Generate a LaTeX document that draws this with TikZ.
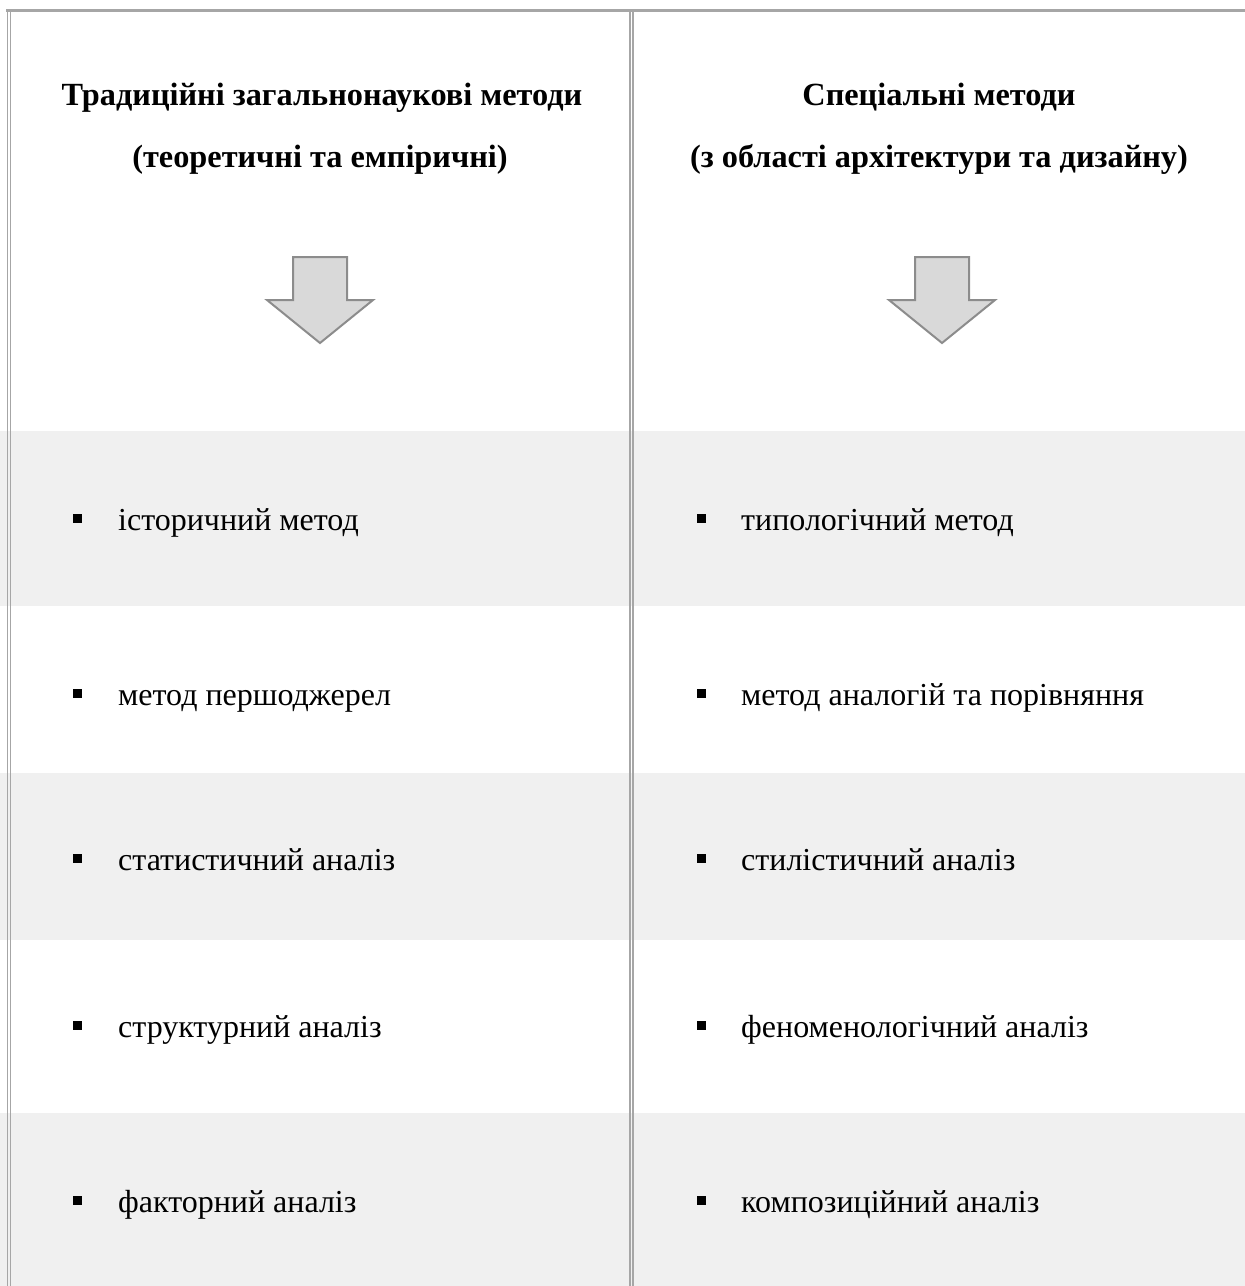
\documentclass[tikz,border=0pt]{standalone}
\usepackage{fontspec}
\setmainfont{Liberation Serif}
\definecolor{bandgray}{HTML}{F0F0F0}
\definecolor{rulegray}{HTML}{A6A6A6}
\definecolor{arrowfill}{HTML}{D9D9D9}
\definecolor{arrowline}{HTML}{8C8C8C}

\begin{document}
\begin{tikzpicture}[x = 1pt, y = -1pt]
\tikzstyle{HeadStyle}=[anchor = base,
                       inner sep = 0pt,
                       font = \fontsize{32.3}{38}\selectfont\bfseries]
\tikzstyle{ItemStyle}=[anchor = base west,
                       inner sep = 0pt,
                       font = \fontsize{32}{38}\selectfont]
\tikzstyle{BulletStyle}=[shape = rectangle,
                         fill = black,
                         minimum size = 9pt,
                         inner sep = 0pt]
\tikzstyle{RuleStyle}=[draw = rulegray, line width = 1.6pt]
\tikzstyle{ArrowStyle}=[fill = arrowfill, draw = arrowline,
                        line width = 2pt, line join = miter]
\useasboundingbox (0, 0) rectangle (1245, 1286);
% bands
\fill[bandgray] (0, 431) rectangle (1245, 606);
\fill[bandgray] (0, 773) rectangle (1245, 940);
\fill[bandgray] (0, 1113) rectangle (1245, 1286);
% frame
\draw[draw = rulegray, line width = 3pt] (6, 10.5) -- (1245, 10.5);
\draw[RuleStyle] (7.3, 9) -- (7.3, 1286);
\draw[RuleStyle] (10.5, 9) -- (10.5, 1286);
\draw[RuleStyle] (630, 12) -- (630, 1286);
\draw[RuleStyle] (633, 12) -- (633, 1286);
% headings
\node[HeadStyle] (h0) at (322, 105) {Традиційні загальнонаукові методи};
\node[HeadStyle] (h1) at (320, 167) {(теоретичні та емпіричні)};
\node[HeadStyle] (h2) at (939, 105) {Спеціальні методи};
\node[HeadStyle] (h3) at (939, 167) {(з області архітектури та дизайну)};
% arrows
\draw[ArrowStyle] (293, 257) -- (347, 257) -- (347, 300) -- (373, 300)
   -- (320, 343) -- (267, 300) -- (293, 300) -- cycle;
\draw[ArrowStyle] (915, 257) -- (969, 257) -- (969, 300) -- (995, 300)
   -- (942, 343) -- (889, 300) -- (915, 300) -- cycle;
% left items
\node[BulletStyle] (b0) at (77.5, 518) {};
\node[BulletStyle] (b1) at (77.5, 693) {};
\node[BulletStyle] (b2) at (77.5, 858) {};
\node[BulletStyle] (b3) at (77.5, 1025) {};
\node[BulletStyle] (b4) at (77.5, 1200) {};
\node[ItemStyle] (l0) at (118, 530) {історичний метод};
\node[ItemStyle] (l1) at (118, 705) {метод першоджерел};
\node[ItemStyle] (l2) at (118, 870) {статистичний аналіз};
\node[ItemStyle] (l3) at (118, 1037) {структурний аналіз};
\node[ItemStyle] (l4) at (118, 1212) {факторний аналіз};
% right items
\node[BulletStyle] (b5) at (701, 518) {};
\node[BulletStyle] (b6) at (701, 693) {};
\node[BulletStyle] (b7) at (701, 858) {};
\node[BulletStyle] (b8) at (701, 1025) {};
\node[BulletStyle] (b9) at (701, 1200) {};
\node[ItemStyle] (r0) at (741, 530) {типологічний метод};
\node[ItemStyle] (r1) at (741, 705) {метод аналогій та порівняння};
\node[ItemStyle] (r2) at (741, 870) {стилістичний аналіз};
\node[ItemStyle] (r3) at (741, 1037) {феноменологічний аналіз};
\node[ItemStyle] (r4) at (741, 1212) {композиційний аналіз};
\end{tikzpicture}
\end{document}
